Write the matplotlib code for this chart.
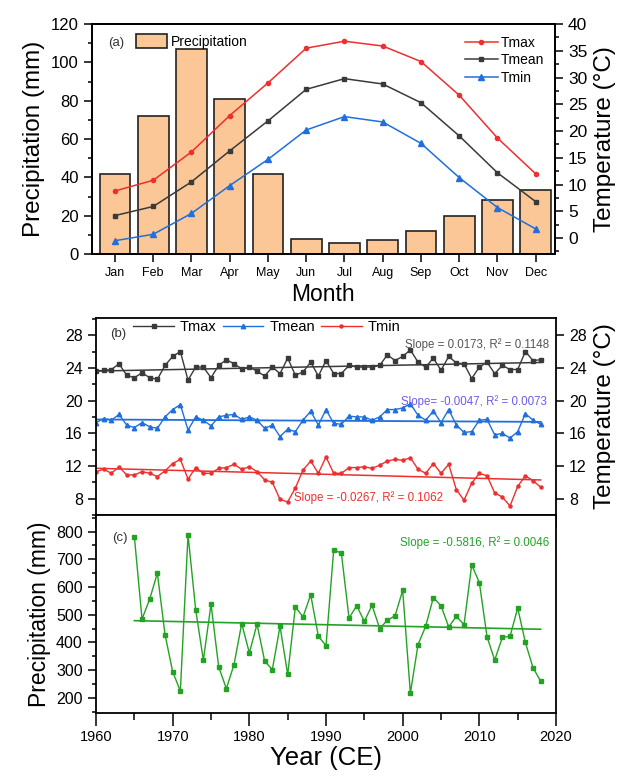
import numpy as np
import matplotlib
matplotlib.use('Agg')
import matplotlib.pyplot as plt
from matplotlib.ticker import MultipleLocator

plt.rcParams['font.family'] = ['Liberation Sans', 'DejaVu Sans']

# Panel (a): monthly climatology
months = ['Jan', 'Feb', 'Mar', 'Apr', 'May', 'Jun', 'Jul', 'Aug', 'Sep', 'Oct', 'Nov', 'Dec']
precip_month = [42, 72, 107, 81, 42, 8, 6, 7.5, 12, 20, 28, 33.5]
tmax_month = [8.8, 10.8, 16.1, 22.9, 29.0, 35.5, 36.8, 35.9, 33.0, 26.7, 18.7, 12.0]
tmean_month = [4.2, 5.9, 10.5, 16.3, 21.9, 27.8, 29.8, 28.8, 25.3, 19.1, 12.2, 6.8]
tmin_month = [-0.5, 0.7, 4.6, 9.8, 14.7, 20.2, 22.7, 21.7, 17.7, 11.3, 5.7, 1.7]

# Panel (b): annual temperature 1960-2018
years_t = list(range(1960, 2019))
tmax_year = [23.6, 23.7, 23.8, 24.5, 23.1, 22.8, 23.4, 22.8, 22.6, 24.3,
             25.4, 26.0, 22.5, 24.1, 24.1, 22.8, 24.3, 25.0, 24.5, 23.9,
             24.1, 23.6, 23.0, 24.1, 23.3, 25.2, 23.1, 23.5, 24.7, 23.0,
             24.9, 23.3, 23.3, 24.3, 24.1, 24.1, 24.1, 24.3, 25.6, 24.9,
             25.4, 26.2, 24.7, 24.1, 25.2, 23.7, 25.4, 24.6, 24.5, 22.7,
             24.1, 24.7, 23.3, 24.3, 23.8, 23.8, 26.0, 24.9, 25.0]
tmean_year = [17.3, 17.8, 17.6, 18.3, 17.0, 16.7, 17.3, 16.8, 16.6, 18.0,
              18.9, 19.5, 16.4, 18.0, 17.6, 16.9, 18.0, 18.2, 18.3, 17.7,
              18.0, 17.6, 16.6, 17.0, 15.6, 16.5, 16.2, 17.6, 18.7, 17.0,
              18.9, 17.2, 17.1, 18.1, 18.0, 18.0, 17.6, 18.0, 18.9, 18.9,
              19.1, 19.6, 18.2, 17.6, 18.7, 17.3, 18.9, 17.0, 16.1, 16.2,
              17.6, 17.7, 15.8, 16.0, 15.4, 16.2, 18.4, 17.6, 17.1]
tmin_year = [11.3, 11.6, 11.1, 11.9, 10.9, 10.9, 11.3, 11.1, 10.7, 11.4,
             12.3, 12.8, 10.4, 11.8, 11.1, 11.1, 11.7, 11.8, 12.2, 11.6,
             11.9, 11.3, 10.3, 10.0, 7.9, 7.6, 9.3, 11.5, 12.6, 11.1,
             13.1, 11.1, 11.1, 11.8, 11.8, 11.9, 11.7, 12.1, 12.6, 12.8,
             12.7, 13.0, 11.6, 11.1, 12.3, 11.1, 12.2, 9.1, 7.8, 9.9,
             11.1, 10.8, 8.7, 8.2, 7.1, 9.5, 10.8, 10.2, 9.4]

# Panel (c): annual precipitation 1965-2018
years_p = list(range(1965, 2019))
precip_year = [782, 484, 556, 650, 428, 294, 224, 788, 518, 336,
               538, 311, 233, 320, 468, 362, 466, 332, 302, 458,
               284, 528, 492, 572, 422, 388, 734, 722, 488, 532,
               476, 534, 450, 480, 496, 588, 216, 392, 458, 562,
               532, 456, 494, 464, 680, 616, 420, 336, 418, 422,
               524, 400, 308, 260]

slope_text_tmax = 'Slope = 0.0173, R² = 0.1148'
slope_text_tmean = 'Slope= -0.0047, R² = 0.0073'
slope_text_tmin = 'Slope = -0.0267, R² = 0.1062'
slope_text_prec = 'Slope = -0.5816, R² = 0.0046'

c_red = '#ee2f2f'
c_black = '#3a3a3a'
c_blue = '#1f6fdc'
c_green = '#23a323'
c_bar = '#fbc797'

def style_ticks(ax):
    ax.tick_params(which='both', direction='out', width=1.1)
    ax.tick_params(which='major', length=6)
    ax.tick_params(which='minor', length=3)
    for s in ax.spines.values():
        s.set_linewidth(1.3)

def trend(x, y):
    p = np.polyfit(x, y, 1)
    return np.polyval(p, x)

fig = plt.figure(figsize=(6.28, 7.77), dpi=100)

# ---------------- Panel (a)
ax_a = fig.add_axes([0.1465, 0.673, 0.737, 0.296])
x_m = np.arange(len(months))
bars = ax_a.bar(x_m, precip_month, width=0.8, color=c_bar, edgecolor='#222222',
                linewidth=1.2, label='Precipitation')
ax_a.set_xlim(-0.6, 11.5)
ax_a.set_ylim(0, 120)
ax_a.set_xticks(x_m)
ax_a.set_xticklabels(months, fontsize=9)
ax_a.yaxis.set_major_locator(MultipleLocator(20))
ax_a.yaxis.set_minor_locator(MultipleLocator(10))
ax_a.tick_params(axis='y', labelsize=12)
ax_a.set_ylabel('Precipitation (mm)', fontsize=17.5, labelpad=4)
ax_a.set_xlabel('Month', fontsize=16.5, labelpad=3)
style_ticks(ax_a)
ax_a.text(0.035, 0.905, '(a)', transform=ax_a.transAxes, fontsize=9.5, color='#333333')
ax_a.legend(handles=[bars], loc='upper left', bbox_to_anchor=(0.075, 1.0),
            frameon=False, fontsize=10, handlelength=2.2, handleheight=1.2,
            handletextpad=0.3, borderaxespad=0.3)

ax_a2 = ax_a.twinx()
ax_a2.plot(x_m, tmax_month, color=c_red, marker='o', ms=3, lw=1.1, label='Tmax')
ax_a2.plot(x_m, tmean_month, color=c_black, marker='s', ms=3, lw=1.1, label='Tmean')
ax_a2.plot(x_m, tmin_month, color=c_blue, marker='^', ms=4, lw=1.1, label='Tmin')
ax_a2.set_ylim(-3, 40)
ax_a2.yaxis.set_major_locator(MultipleLocator(5))
ax_a2.yaxis.set_minor_locator(MultipleLocator(2.5))
ax_a2.set_yticks(np.arange(0, 41, 5))
ax_a2.tick_params(axis='y', labelsize=12.5)
ax_a2.set_ylabel('Temperature (°C)', fontsize=17.5, labelpad=5)
style_ticks(ax_a2)
ax_a2.legend(loc='upper right', bbox_to_anchor=(0.995, 0.985), frameon=False,
             fontsize=10, handlelength=2.4, handletextpad=0.2, labelspacing=0.25,
             borderaxespad=0.2)

# ---------------- Panel (b)
ax_b = fig.add_axes([0.1529, 0.3372, 0.7325, 0.2535])
ax_b.plot(years_t, tmax_year, color=c_black, marker='s', ms=2.6, lw=1.0, label='Tmax')
ax_b.plot(years_t, tmean_year, color=c_blue, marker='^', ms=3.2, lw=1.0, label='Tmean')
ax_b.plot(years_t, tmin_year, color=c_red, marker='o', ms=2.2, lw=1.0, label='Tmin')
ax_b.plot(years_t, trend(years_t, tmax_year), color=c_black, lw=1.1)
ax_b.plot(years_t, trend(years_t, tmean_year), color=c_blue, lw=1.3)
ax_b.plot(years_t, trend(years_t, tmin_year), color=c_red, lw=1.1)
ax_b.set_xlim(1960, 2020)
ax_b.set_ylim(6, 30.1)
ax_b.xaxis.set_major_locator(MultipleLocator(10))
ax_b.xaxis.set_minor_locator(MultipleLocator(5))
ax_b.yaxis.set_major_locator(MultipleLocator(4))
ax_b.yaxis.set_minor_locator(MultipleLocator(2))
ax_b.set_yticks(np.arange(8, 29, 4))
ax_b.tick_params(axis='x', labelbottom=False)
ax_b.tick_params(axis='y', labelsize=11.5, left=True, right=True, labelright=True)
style_ticks(ax_b)
ax_b.tick_params(axis='x', which='major', length=9)
ax_b.tick_params(axis='x', which='minor', length=5)
ax_b.yaxis.set_label_position('right')
ax_b.set_ylabel('Temperature (°C)', fontsize=17.5, labelpad=5)
ax_b.text(0.03, 0.905, '(b)', transform=ax_b.transAxes, fontsize=9.5, color='#333333')
ax_b.legend(loc='upper left', bbox_to_anchor=(0.062, 1.035), ncol=3, frameon=False,
            fontsize=10.5, handlelength=2.8, handletextpad=0.4, columnspacing=0.4,
            borderaxespad=0.2)
ax_b.text(0.985, 0.85, slope_text_tmax, transform=ax_b.transAxes, ha='right',
          fontsize=8.3, color='#555555')
ax_b.text(0.98, 0.56, slope_text_tmean, transform=ax_b.transAxes, ha='right',
          fontsize=8.3, color='#6b5de8')
ax_b.text(0.43, 0.07, slope_text_tmin, transform=ax_b.transAxes, ha='left',
          fontsize=8.3, color=c_red)

# ---------------- Panel (c)
ax_c = fig.add_axes([0.1529, 0.0824, 0.7325, 0.2548])
ax_c.plot(years_p, precip_year, color=c_green, marker='s', ms=2.6, lw=1.0)
ax_c.plot(years_p, trend(years_p, precip_year), color=c_green, lw=1.2)
ax_c.set_xlim(1960, 2020)
ax_c.set_ylim(145, 860)
ax_c.xaxis.set_major_locator(MultipleLocator(10))
ax_c.xaxis.set_minor_locator(MultipleLocator(5))
ax_c.yaxis.set_major_locator(MultipleLocator(100))
ax_c.yaxis.set_minor_locator(MultipleLocator(50))
ax_c.set_yticks(np.arange(200, 801, 100))
ax_c.tick_params(axis='x', labelsize=10.5)
ax_c.tick_params(axis='y', labelsize=11.5)
style_ticks(ax_c)
ax_c.tick_params(axis='x', which='major', length=9)
ax_c.tick_params(axis='x', which='minor', length=5)
ax_c.set_ylabel('Precipitation (mm)', fontsize=16.5, labelpad=4)
ax_c.set_xlabel('Year (CE)', fontsize=18.5, labelpad=1)
ax_c.text(0.035, 0.87, '(c)', transform=ax_c.transAxes, fontsize=9.5, color='#333333')
ax_c.text(0.985, 0.845, slope_text_prec, transform=ax_c.transAxes, ha='right',
          fontsize=8.3, color=c_green)

fig.savefig('out.png', dpi=100)
